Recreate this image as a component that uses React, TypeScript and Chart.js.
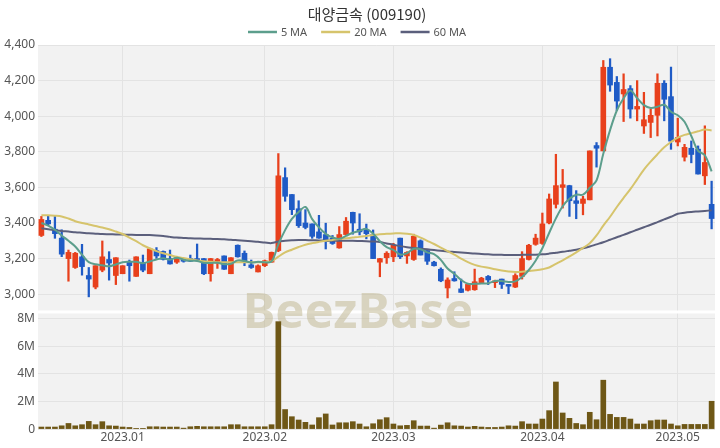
import React, { useEffect, useRef } from 'react';
import { Chart, registerables } from 'chart.js';

Chart.register(...registerables);

// ---- data ----
const opens = [3330, 3415, 3365, 3315, 3200, 3150, 3210, 3105, 3040, 3135, 3195, 3105, 3115, 3180, 3100, 3175, 3115, 3245, 3240, 3200, 3180, 3195, 3200, 3200, 3200, 3115, 3175, 3215, 3115, 3275, 3230, 3165, 3125, 3160, 3180, 3245, 3655, 3560, 3480, 3400, 3395, 3350, 3335, 3315, 3260, 3335, 3460, 3365, 3360, 3335, 3180, 3205, 3210, 3315, 3215, 3195, 3300, 3245, 3180, 3140, 3035, 3088, 3030, 3022, 3025, 3065, 3100, 3065, 3085, 3055, 3040, 3100, 3195, 3280, 3285, 3400, 3505, 3600, 3610, 3525, 3510, 3530, 3835, 3805, 4275, 4190, 4125, 4155, 4040, 3945, 3965, 4005, 4185, 4110, 3855, 3770, 3820, 3815, 3665, 3505];
const highs = [3437, 3443, 3437, 3362, 3248, 3235, 3280, 3150, 3160, 3299, 3239, 3205, 3160, 3192, 3210, 3220, 3255, 3262, 3243, 3248, 3211, 3201, 3220, 3282, 3201, 3201, 3201, 3215, 3205, 3277, 3243, 3192, 3165, 3192, 3237, 3790, 3710, 3560, 3525, 3475, 3395, 3443, 3399, 3330, 3380, 3431, 3461, 3452, 3394, 3361, 3201, 3239, 3286, 3315, 3239, 3337, 3305, 3245, 3185, 3148, 3092, 3126, 3085, 3058, 3141, 3095, 3105, 3079, 3085, 3055, 3115, 3239, 3280, 3337, 3456, 3563, 3786, 3701, 3612, 3582, 3550, 3805, 3852, 4313, 4323, 4223, 4238, 4172, 4200, 4134, 4040, 4238, 4200, 4276, 3989, 3842, 3861, 3833, 3946, 3635];
const lows = [3324, 3386, 3314, 3211, 3073, 3145, 3107, 2985, 3030, 3126, 3079, 3054, 3115, 3073, 3100, 3126, 3115, 3201, 3192, 3169, 3173, 3180, 3183, 3190, 3110, 3073, 3145, 3139, 3115, 3208, 3160, 3145, 3125, 3155, 3179, 3239, 3522, 3447, 3375, 3367, 3314, 3314, 3254, 3280, 3258, 3333, 3337, 3333, 3311, 3200, 3098, 3173, 3183, 3200, 3173, 3190, 3220, 3167, 3158, 3070, 2979, 3073, 3009, 3018, 3022, 3065, 3054, 3037, 3032, 3003, 3037, 3085, 3192, 3275, 3280, 3395, 3484, 3484, 3437, 3424, 3446, 3530, 3714, 3805, 4140, 4031, 3970, 3989, 3974, 3903, 3880, 3889, 3974, 3814, 3833, 3748, 3738, 3675, 3616, 3367];
const closes = [3420, 3395, 3340, 3225, 3235, 3230, 3155, 3085, 3160, 3210, 3175, 3205, 3160, 3160, 3210, 3135, 3255, 3215, 3195, 3170, 3205, 3185, 3185, 3192, 3115, 3200, 3195, 3140, 3205, 3210, 3185, 3150, 3160, 3188, 3235, 3665, 3550, 3475, 3385, 3375, 3325, 3315, 3295, 3285, 3335, 3410, 3400, 3350, 3340, 3200, 3200, 3230, 3275, 3210, 3235, 3325, 3220, 3185, 3160, 3075, 3080, 3075, 3010, 3055, 3070, 3090, 3080, 3075, 3055, 3045, 3105, 3200, 3275, 3315, 3395, 3535, 3610, 3615, 3525, 3510, 3535, 3805, 3820, 4275, 4175, 4085, 4150, 4040, 4055, 3980, 4005, 4185, 4095, 3860, 3880, 3825, 3785, 3675, 3740, 3425];
// volume in millions of shares
const volumes = [0.15, 0.15, 0.15, 0.24, 0.41, 0.24, 0.32, 0.56, 0.32, 0.54, 0.24, 0.22, 0.15, 0.12, 0.05, 0.05, 0.17, 0.17, 0.15, 0.15, 0.15, 0.07, 0.17, 0.2, 0.17, 0.17, 0.17, 0.17, 0.32, 0.32, 0.17, 0.17, 0.17, 0.17, 0.32, 7.8, 1.42, 0.9, 0.66, 0.49, 0.3, 0.83, 1.1, 0.3, 0.46, 0.46, 0.54, 0.37, 0.17, 0.39, 0.68, 0.83, 0.37, 0.24, 0.27, 0.61, 0.22, 0.22, 0.07, 0.29, 0.46, 0.24, 0.22, 0.15, 0.2, 0.15, 0.12, 0.12, 0.15, 0.24, 0.22, 0.54, 0.37, 0.37, 0.73, 1.34, 3.42, 1.17, 0.78, 0.41, 0.32, 1.22, 0.68, 3.55, 1.07, 0.85, 0.85, 0.73, 0.37, 0.37, 0.61, 0.66, 0.66, 0.37, 0.24, 0.34, 0.34, 0.34, 0.34, 2.02];
const ma5 = [3400, 3385, 3362, 3330, 3300, 3268, 3222, 3180, 3168, 3163, 3157, 3167, 3180, 3182, 3182, 3174, 3184, 3195, 3202, 3194, 3205, 3194, 3188, 3187, 3176, 3175, 3177, 3168, 3171, 3190, 3187, 3178, 3182, 3179, 3184, 3280, 3360, 3423, 3462, 3490, 3422, 3375, 3339, 3319, 3311, 3328, 3345, 3356, 3367, 3340, 3298, 3264, 3249, 3223, 3230, 3255, 3253, 3235, 3225, 3193, 3144, 3115, 3080, 3059, 3058, 3060, 3061, 3074, 3074, 3069, 3072, 3096, 3136, 3188, 3258, 3344, 3426, 3494, 3536, 3559, 3559, 3598, 3639, 3789, 3922, 4032, 4101, 4145, 4101, 4062, 4046, 4053, 4064, 4025, 4005, 3969, 3889, 3805, 3781, 3690];
const ma20 = [3443, 3443, 3441, 3437, 3425, 3410, 3400, 3392, 3383, 3375, 3365, 3352, 3338, 3318, 3298, 3275, 3258, 3242, 3230, 3220, 3210, 3203, 3196, 3190, 3185, 3182, 3180, 3180, 3179, 3179, 3179, 3179, 3179, 3180, 3185, 3211, 3235, 3250, 3265, 3278, 3287, 3294, 3300, 3305, 3310, 3314, 3318, 3322, 3327, 3332, 3337, 3339, 3341, 3343, 3340, 3333, 3318, 3300, 3282, 3262, 3242, 3222, 3200, 3180, 3165, 3155, 3148, 3140, 3133, 3128, 3125, 3126, 3130, 3134, 3140, 3150, 3170, 3190, 3212, 3235, 3260, 3286, 3330, 3385, 3435, 3490, 3541, 3590, 3645, 3700, 3745, 3786, 3825, 3855, 3880, 3895, 3905, 3915, 3925, 3920];
const ma60 = [3370, 3365, 3360, 3355, 3352, 3348, 3345, 3342, 3340, 3338, 3337, 3336, 3335, 3334, 3333, 3333, 3332, 3330, 3327, 3322, 3318, 3316, 3314, 3313, 3312, 3311, 3310, 3308, 3306, 3303, 3300, 3297, 3294, 3290, 3287, 3296, 3300, 3303, 3305, 3304, 3303, 3302, 3301, 3300, 3300, 3300, 3300, 3299, 3298, 3296, 3293, 3285, 3278, 3270, 3264, 3260, 3256, 3252, 3248, 3244, 3240, 3237, 3234, 3231, 3228, 3226, 3224, 3222, 3221, 3220, 3220, 3221, 3222, 3222, 3224, 3228, 3233, 3238, 3244, 3250, 3258, 3268, 3280, 3292, 3306, 3320, 3333, 3348, 3362, 3376, 3390, 3405, 3420, 3435, 3452, 3458, 3462, 3465, 3468, 3471];

const tickIndices = [12, 33, 52, 74, 94];
const tickLabels = ['2023.01', '2023.02', '2023.03', '2023.04', '2023.05'];
const priceTicks = [3000, 3200, 3400, 3600, 3800, 4000, 4200, 4400];
const volumeTicks = [0, 2, 4, 6, 8];
const categories = closes.map((_, i) => String(i));

const TITLE = '대양금속 (009190)';
const UP = '#e8401c';
const DOWN = '#1f5bc6';
const VOL = '#6e5716';
const C5 = '#5c9e8c';
const C20 = '#d6c46c';
const C60 = '#5b5f7c';
const BG = '#f2f2f2';
const GRID = '#e3e3e3';
const TXT = '#555';
const FONT = "'Noto Sans', 'DejaVu Sans', sans-serif";

const legendItems = [
  { label: '5 MA', color: C5 },
  { label: '20 MA', color: C20 },
  { label: '60 MA', color: C60 },
];

const decorPlugin = {
  id: 'decor',
  beforeDraw(chart: any) {
    const { ctx, chartArea, scales } = chart;
    ctx.save();
    ctx.fillStyle = BG;
    const yp = scales.yp;
    const yv = scales.yv;
    ctx.fillRect(chartArea.left, yp.top, chartArea.right - chartArea.left, yp.bottom - yp.top);
    ctx.fillRect(chartArea.left, yv.top, chartArea.right - chartArea.left, yv.bottom - yv.top);
    ctx.restore();
  },
  beforeDatasetsDraw(chart: any) {
    const { ctx, chartArea, scales } = chart;
    ctx.save();
    ctx.fillStyle = '#ffffff';
    ctx.fillRect(chartArea.left, scales.yp.bottom - 1.5, chartArea.right - chartArea.left, 3);
    ctx.font = `bold 49px ${FONT}`;
    ctx.fillStyle = 'rgba(190,180,140,0.5)';
    ctx.textAlign = 'center';
    ctx.textBaseline = 'alphabetic';
    ctx.fillText('BeezBase', 358, 328);
    ctx.restore();
  },
  afterDraw(chart: any) {
    const { ctx } = chart;
    ctx.save();
    ctx.fillStyle = '#333';
    ctx.font = `15px 'Noto Sans CJK KR', ${FONT}`;
    ctx.textAlign = 'center';
    ctx.textBaseline = 'middle';
    ctx.fillText(TITLE, 367, 14);
    ctx.font = `11px ${FONT}`;
    ctx.textAlign = 'left';
    const sw = 29, gapText = 4, gapItem = 14;
    const widths = legendItems.map((it) => sw + gapText + ctx.measureText(it.label).width);
    const total = widths.reduce((a, b) => a + b, 0) + gapItem * (legendItems.length - 1);
    let x = 357 - total / 2;
    const y = 32;
    legendItems.forEach((it, i) => {
      ctx.strokeStyle = it.color;
      ctx.lineWidth = 2.5;
      ctx.beginPath();
      ctx.moveTo(x, y);
      ctx.lineTo(x + sw, y);
      ctx.stroke();
      ctx.fillStyle = TXT;
      ctx.fillText(it.label, x + sw + gapText, y + 0.5);
      x += widths[i] + gapItem;
    });
    ctx.restore();
  },
};

export default function App() {
  const ref = useRef<HTMLCanvasElement | null>(null);

  useEffect(() => {
    if (!ref.current) return;
    const candleColors = closes.map((c, i) => (c >= opens[i] ? UP : DOWN));
    const chart = new Chart(ref.current, {
      type: 'bar',
      data: {
        labels: categories,
        datasets: [
          { type: 'line', label: '5 MA', data: ma5, yAxisID: 'yp', borderColor: C5, backgroundColor: C5, borderWidth: 2, pointRadius: 0, tension: 0.35, order: 0 } as any,
          { type: 'line', label: '20 MA', data: ma20, yAxisID: 'yp', borderColor: C20, backgroundColor: C20, borderWidth: 2, pointRadius: 0, tension: 0.35, order: 0 } as any,
          { type: 'line', label: '60 MA', data: ma60, yAxisID: 'yp', borderColor: C60, backgroundColor: C60, borderWidth: 2, pointRadius: 0, tension: 0.35, order: 0 } as any,
          { type: 'bar', label: 'wick', data: lows.map((l, i) => [l, highs[i]]), yAxisID: 'yp', backgroundColor: candleColors, barThickness: 1.6, grouped: false, order: 2 } as any,
          { type: 'bar', label: 'body', data: opens.map((o, i) => [o, closes[i]]), yAxisID: 'yp', backgroundColor: candleColors, barThickness: 5, grouped: false, order: 1 } as any,
          { type: 'bar', label: 'volume', data: volumes, yAxisID: 'yv', backgroundColor: VOL, barThickness: 5, grouped: false, order: 3 } as any,
        ],
      },
      options: {
        animation: false,
        responsive: false,
        maintainAspectRatio: false,
        layout: { padding: { top: 45, bottom: 1.5, left: 0, right: 5 } },
        plugins: {
          legend: { display: false },
          title: { display: false },
          tooltip: { enabled: false },
        },
        scales: {
          x: {
            type: 'category',
            grid: { color: GRID, offset: false, drawTicks: false },
            border: { display: false },
            ticks: {
              autoSkip: false,
              maxRotation: 0,
              padding: 1.5,
              color: TXT,
              font: { family: FONT, size: 12 },
              callback: (_v: any, i: number) => {
                const k = tickIndices.indexOf(i);
                return k >= 0 ? tickLabels[k] : null;
              },
            },
          },
          yv: {
            type: 'linear',
            position: 'left',
            stack: 'panels',
            stackWeight: 1,
            min: 0,
            max: 8.5,
            grid: { color: GRID, drawTicks: false },
            border: { display: false },
            afterBuildTicks: (s: any) => { s.ticks = volumeTicks.map((v) => ({ value: v })); },
            afterFit: (s: any) => { s.width = 38; },
            ticks: {
              autoSkip: false,
              padding: 3,
              color: TXT,
              font: { family: FONT, size: 12 },
              callback: (v: any) => (v === 0 ? '0' : `${v}M`),
            },
          },
          yp: {
            type: 'linear',
            position: 'left',
            stack: 'panels',
            stackWeight: 2.28,
            min: 2900,
            max: 4400,
            grid: { color: GRID, drawTicks: false },
            border: { display: false },
            afterBuildTicks: (s: any) => { s.ticks = priceTicks.map((v) => ({ value: v })); },
            afterFit: (s: any) => { s.width = 38; },
            ticks: {
              autoSkip: false,
              padding: 3,
              color: TXT,
              font: { family: FONT, size: 12 },
              callback: (v: any) => Number(v).toLocaleString('en-US'),
            },
          },
        } as any,
      },
      plugins: [decorPlugin],
    });
    return () => chart.destroy();
  }, []);

  return (
    <div style={{ position: 'fixed', left: 0, top: 0, width: 720, height: 448, background: '#fff' }}>
      <canvas ref={ref} width={720} height={448} style={{ display: 'block', width: 720, height: 448 }} />
    </div>
  );
}
